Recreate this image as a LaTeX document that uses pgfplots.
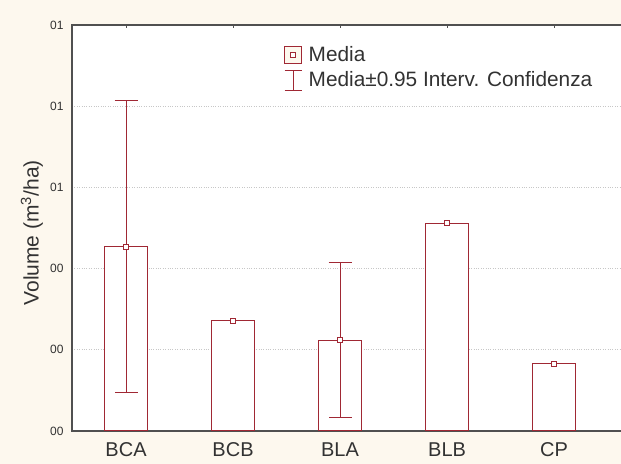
\documentclass[border=0pt]{standalone}
\usepackage{pgfplots}
\pgfplotsset{compat=1.18}
\usepackage{fontspec}
\setmainfont{Liberation Sans}
\definecolor{sred}{RGB}{160,40,52}
\definecolor{cream}{RGB}{253,248,238}
\definecolor{txt}{RGB}{50,50,50}
\definecolor{axc}{RGB}{80,80,80}
\begin{document}
\begin{tikzpicture}[x=1bp,y=1bp]
\fill[cream] (0,0) rectangle (621,464);
\useasboundingbox (0,0) rectangle (621,464);
\begin{axis}[
 at={(72bp,33bp)}, anchor=south west,
 scale only axis, width=553bp, height=406bp,
 xmin=-0.505, xmax=4.663, ymin=0, ymax=5,
 axis background/.style={fill=white},
 xtick={0,...,4}, xticklabels={BCA,BCB,BLA,BLB,CP},
 ytick={0,...,5}, yticklabels={00,00,00,01,01,01},
 tick align=inside, major tick length=3bp,
 ytick style={draw=none},
 xtick style={axc, line width=1pt},
 ymajorgrids, grid style={dotted, black!22, line width=0.9pt},
 axis line style={axc, line width=1.2pt},
 xticklabel style={font=\fontsize{20bp}{24bp}\selectfont, text=txt, yshift=-8bp},
 yticklabel style={font=\fontsize{12bp}{14bp}\selectfont, text=txt, xshift=-5bp},
 ylabel={Volume (m\textsuperscript{3}/ha)},
 every axis y label/.style={at={(axis description cs:-0.0727,0.488)}, rotate=90, anchor=center, font=\fontsize{21bp}{25bp}\selectfont, text=txt},
 legend style={at={(axis description cs:0.3834,0.951)}, anchor=north west, draw=none, fill=none, inner sep=0pt, row sep=5bp, column sep=5bp, font=\fontsize{20.8bp}{25bp}\selectfont, text=txt, nodes={inner sep=1.5bp}},
 legend cell align=left,
]
\addplot[ybar, bar width=0.4, bar shift=0pt, draw=sred, fill=white, line width=1pt, forget plot]
 coordinates {(0,2.27) (1,1.36) (2,1.12) (3,2.56) (4,0.83)};
\addplot[only marks, mark=square*, mark size=2.5bp, mark options={fill=white, draw=sred, line width=0.9pt}, forget plot,
 error bars/.cd, y dir=both, y explicit, error bar style={sred, line width=1pt},
 error mark options={rotate=90, sred, line width=1pt, mark size=11.5bp}]
 coordinates {(0,2.27) +- (0,1.80) (1,1.36) +- (0,0) (2,1.12) +- (0,0.955) (3,2.56) +- (0,0) (4,0.83) +- (0,0)};
\addlegendimage{legend image code/.code={\draw[sred, fill=cream, line width=1pt] (0bp,-8.5bp) rectangle (17bp,8.5bp); \draw[sred, fill=white, line width=0.8pt] (6bp,-2.5bp) rectangle (11bp,2.5bp);}}
\addlegendentry{Media}
\addlegendimage{legend image code/.code={\draw[sred, line width=1pt] (8.5bp,-10bp) -- (8.5bp,10bp) (0bp,10bp) -- (17bp,10bp) (0bp,-10bp) -- (17bp,-10bp);}}
\addlegendentry{Media±0.95 Interv. Confidenza}
\end{axis}
\end{tikzpicture}
\end{document}
